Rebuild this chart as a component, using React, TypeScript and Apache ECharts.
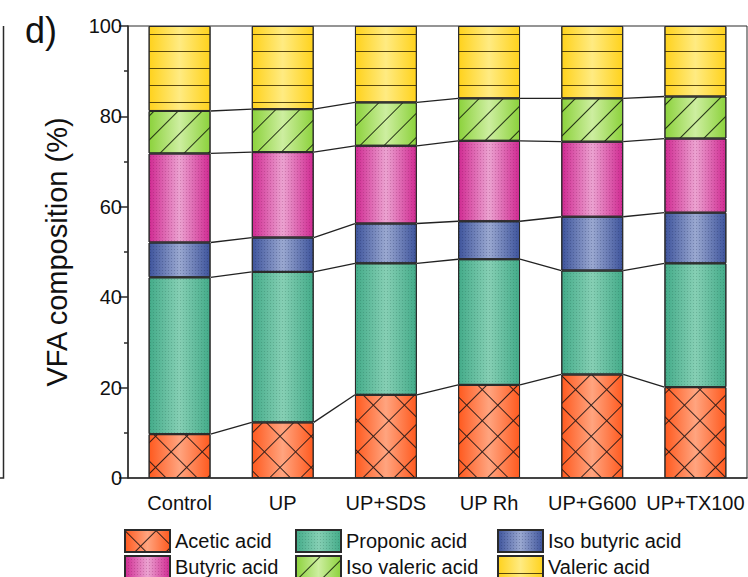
import React, { useEffect, useRef } from "react";
import * as echarts from "echarts";

// Treatments on the x axis
const categories = ["Control", "UP", "UP+SDS", "UP Rh", "UP+G600", "UP+TX100"];

// Share of each acid in total VFA (%)
const acetic = [9.7, 12.3, 18.4, 20.6, 22.9, 20.1];
const proponic = [34.7, 33.3, 29.1, 27.8, 23.0, 27.4];
const isoButyric = [7.7, 7.6, 8.8, 8.4, 11.9, 11.2];
const butyric = [19.7, 18.9, 17.2, 17.8, 16.6, 16.4];
const isoValeric = [9.4, 9.5, 9.6, 9.4, 9.6, 9.3];
const valeric = [18.8, 18.4, 16.9, 16.0, 16.0, 15.6];

const yMin = 0;
const yMax = 100;
const yStep = 20;

const FONT = "'Liberation Sans', Arial, sans-serif";

const cylinder = (edge: string, mid: string) => ({
  type: "linear",
  x: 0,
  y: 0,
  x2: 1,
  y2: 0,
  colorStops: [
    { offset: 0, color: edge },
    { offset: 0.5, color: mid },
    { offset: 1, color: edge },
  ],
});

const dots = (color: string) => ({
  symbol: "rect",
  symbolSize: 1,
  dashArrayX: [1, 2],
  dashArrayY: [1, 2],
  color,
  backgroundColor: "transparent",
});

const layers = [
  {
    name: "Acetic acid",
    values: acetic,
    color: cylinder("#ff5a1f", "#ffa47f"),
    decal: {
      symbol: "path://M0,0H22V1H1V22H0Z",
      symbolSize: 1,
      symbolKeepAspect: false,
      dashArrayX: [22, 0],
      dashArrayY: [22, 0],
      rotation: Math.PI / 4,
      color: "rgba(30,20,20,0.9)",
      backgroundColor: "transparent",
    },
  },
  {
    name: "Proponic acid",
    values: proponic,
    color: cylinder("#43ab89", "#86cfb4"),
    decal: dots("rgba(20,80,60,0.22)"),
  },
  {
    name: "Iso butyric acid",
    values: isoButyric,
    color: cylinder("#3e549c", "#9aa8d0"),
    decal: dots("rgba(20,30,80,0.25)"),
  },
  {
    name: "Butyric acid",
    values: butyric,
    color: cylinder("#d02a92", "#eba2d0"),
    decal: dots("rgba(110,10,70,0.22)"),
  },
  {
    name: "Iso valeric acid",
    values: isoValeric,
    color: cylinder("#8cd23c", "#cdeea0"),
    decal: {
      symbol: "rect",
      symbolSize: 1,
      dashArrayX: [1, 0],
      dashArrayY: [1, 16],
      rotation: -Math.PI / 4,
      color: "rgba(20,30,10,0.9)",
      backgroundColor: "transparent",
    },
  },
  {
    name: "Valeric acid",
    values: valeric,
    color: cylinder("#ffd21c", "#ffeb82"),
    decal: {
      symbol: "rect",
      symbolSize: 1,
      dashArrayX: [1, 0],
      dashArrayY: [1, 16],
      color: "rgba(60,45,0,0.85)",
      backgroundColor: "transparent",
    },
  },
];

// Running totals per treatment, used by the connector lines
const cumulative = (i: number) => {
  let s = 0;
  return layers.map((l) => (s += l.values[i]));
};

const connectorData = categories.slice(0, -1).map((_, i) => [
  i,
  ...cumulative(i).slice(0, 5),
  ...cumulative(i + 1).slice(0, 5),
]);

export default function App() {
  const ref = useRef<HTMLDivElement>(null);

  useEffect(() => {
    if (!ref.current) return;
    const chart = echarts.init(ref.current, undefined, { renderer: "svg" });

    const barSeries = layers.map((l) => ({
      name: l.name,
      type: "bar",
      stack: "vfa",
      barWidth: "60%",
      data: l.values,
      itemStyle: {
        color: l.color,
        borderColor: "#2a2a2a",
        borderWidth: 1,
        decal: l.decal,
      },
      emphasis: { disabled: true },
    }));

    const legendBase = {
      orient: "vertical",
      itemWidth: 45,
      itemHeight: 22,
      itemGap: 2,
      padding: 0,
      height: 80,
      icon: "rect",
      selectedMode: false,
      textStyle: { fontSize: 20, fontFamily: FONT, color: "#111" },
    };

    chart.setOption({
      animation: false,
      aria: { enabled: false },
      grid: {
        left: 128,
        right: 1,
        top: 26,
        bottom: 99,
        show: true,
        borderColor: "#2a2a2a",
        borderWidth: 1,
      },
      legend: [
        { ...legendBase, left: 124, top: 529, data: ["Acetic acid", "Butyric acid"] },
        { ...legendBase, left: 295, top: 529, data: ["Proponic acid", "Iso valeric acid"] },
        { ...legendBase, left: 497, top: 529, data: ["Iso butyric acid", "Valeric acid"] },
      ],
      xAxis: {
        type: "category",
        data: categories,
        axisLine: { lineStyle: { color: "#2a2a2a", width: 1.5 } },
        axisTick: { alignWithLabel: true, length: 8, lineStyle: { color: "#2a2a2a", width: 1.5 } },
        axisLabel: { interval: 0, fontSize: 20, fontFamily: FONT, color: "#111", margin: 15 },
      },
      yAxis: {
        type: "value",
        min: yMin,
        max: yMax,
        interval: yStep,
        splitLine: { show: false },
        axisLine: { show: true, lineStyle: { color: "#2a2a2a", width: 1.5 } },
        axisTick: { show: true, length: 9, lineStyle: { color: "#2a2a2a", width: 1.5 } },
        minorTick: { show: true, splitNumber: 2, length: 4, lineStyle: { color: "#2a2a2a", width: 1.5 } },
        axisLabel: { fontSize: 20, fontFamily: FONT, color: "#111", margin: 6 },
      },
      series: [
        ...barSeries,
        {
          type: "custom",
          name: "connectors",
          silent: true,
          data: connectorData,
          encode: { x: 0, y: 1 },
          renderItem: (_params: any, api: any) => {
            const i = api.value(0);
            const half = api.size([1, 0])[0] * 0.3;
            const children = [];
            for (let k = 0; k < 5; k++) {
              const p1 = api.coord([i, api.value(1 + k)]);
              const p2 = api.coord([i + 1, api.value(6 + k)]);
              children.push({
                type: "line",
                shape: { x1: p1[0] + half, y1: p1[1], x2: p2[0] - half, y2: p2[1] },
                style: { stroke: "#222", lineWidth: 1.3 },
              });
            }
            return { type: "group", children };
          },
        },
      ],
      graphic: [
        {
          type: "text",
          left: 25,
          top: 12,
          style: { text: "d)", fontSize: 36, fontFamily: FONT, fill: "#111" },
        },
        {
          type: "text",
          x: 57,
          y: 252,
          rotation: Math.PI / 2,
          style: {
            text: "VFA composition (%)",
            fontSize: 29,
            fontFamily: FONT,
            fill: "#111",
            align: "center",
            verticalAlign: "middle",
          },
        },
        {
          type: "polyline",
          shape: { points: [[3.5, 26], [3.5, 478], [0, 478]] },
          style: { stroke: "#2a2a2a", lineWidth: 1.5, fill: null },
        },
      ],
    });

    return () => chart.dispose();
  }, []);

  return (
    <div
      ref={ref}
      style={{ position: "absolute", left: 0, top: 0, width: 748, height: 577, background: "#fff" }}
    />
  );
}
